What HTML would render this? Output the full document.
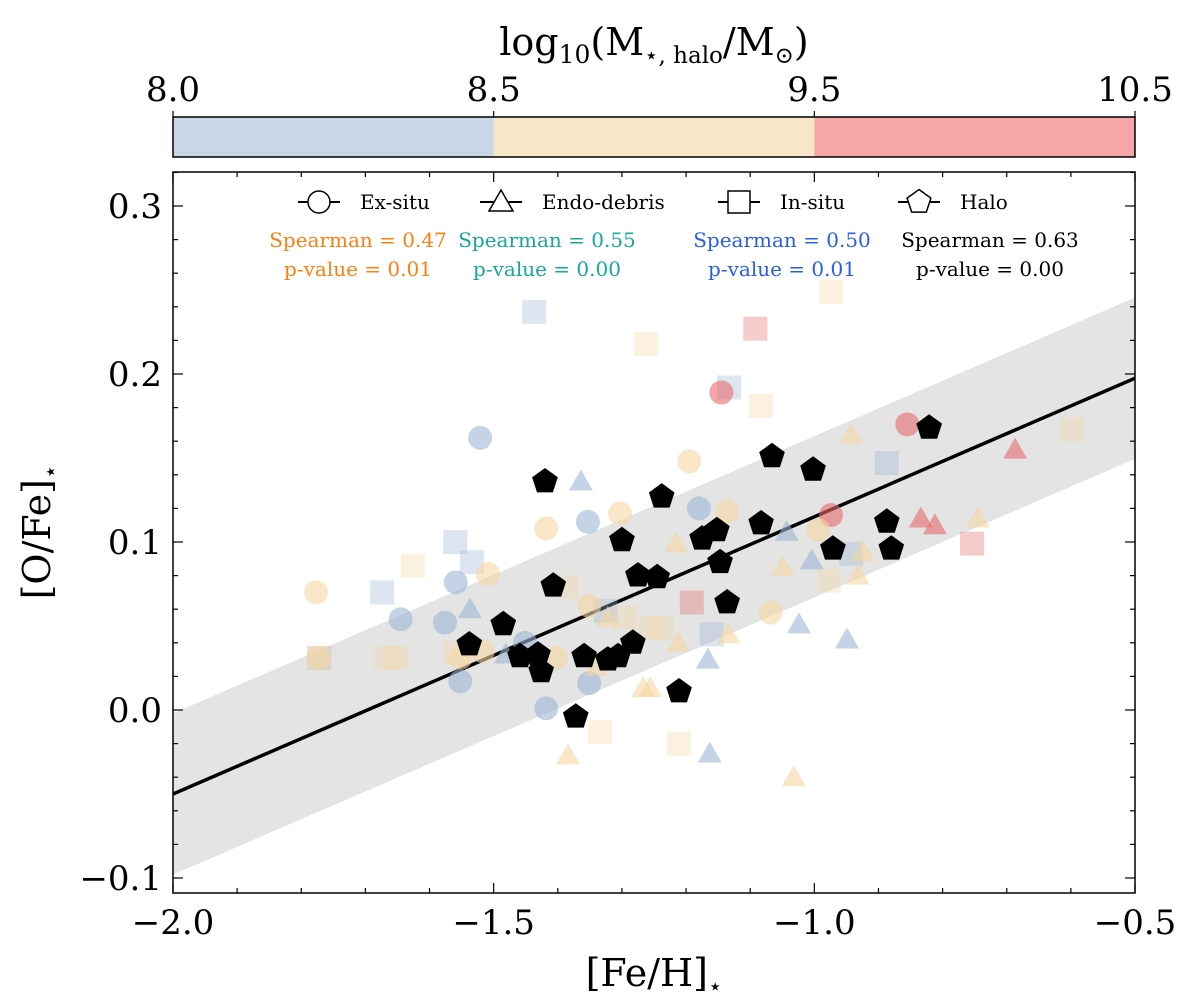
<!DOCTYPE html>
<html><head><meta charset="utf-8">
<style>
body{margin:0;background:#fff;}
svg text{font-family:"DejaVu Serif","Liberation Serif",serif;}
</style></head>
<body>
<svg id="chart" width="1200" height="1002" xmlns="http://www.w3.org/2000/svg">
</svg>
<script>
// ---- data ----
const halo_x = [-1.459,-1.431,-1.426,-1.359,-1.322,-1.306,-1.283,-1.407,-1.485,-1.538,-1.420,-1.300,-1.372,-1.238,-1.066,-1.002,-1.083,-1.152,-1.175,-1.147,-0.971,-0.887,-0.880,-0.821,-1.136,-1.211,-1.245,-1.275];
const halo_y = [0.032,0.033,0.023,0.032,0.030,0.032,0.040,0.074,0.051,0.039,0.136,0.101,-0.004,0.127,0.151,0.143,0.111,0.107,0.102,0.088,0.096,0.112,0.096,0.168,0.064,0.011,0.079,0.080];

const circ_x = [-1.777,-1.521,-1.353,-1.418,-1.303,-1.559,-1.509,-1.645,-1.576,-1.351,-1.451,-1.517,-1.552,-1.403,-1.552,-1.351,-1.418,-1.774,-1.145,-1.195,-1.180,-1.136,-0.974,-0.994,-0.855,-1.068];
const circ_y = [0.070,0.162,0.112,0.108,0.117,0.076,0.081,0.054,0.052,0.062,0.040,0.035,0.031,0.031,0.017,0.016,0.001,0.031,0.189,0.148,0.120,0.118,0.116,0.107,0.170,0.058];
const circ_c = ['t','b','b','t','t','b','t','b','b','t','b','t','t','t','b','b','b','t','r','t','b','t','r','t','r','t'];

const tri_x = [-1.364,-1.537,-1.481,-1.322,-1.384,-1.267,-1.256,-1.340,-1.216,-1.043,-1.049,-1.004,-0.924,-0.932,-0.943,-0.834,-0.812,-0.745,-0.687,-1.212,-1.134,-1.166,-1.024,-0.949,-1.163,-1.032];
const tri_y = [0.136,0.060,0.033,0.055,-0.027,0.013,0.013,0.026,0.099,0.106,0.085,0.089,0.094,0.080,0.164,0.114,0.110,0.114,0.155,0.040,0.045,0.030,0.051,0.042,-0.026,-0.040];
const tri_c = ['b','b','b','t','t','t','t','t','t','b','t','b','t','t','t','r','r','t','r','t','t','b','b','b','b','t'];

const sq_x = [-1.437,-1.262,-1.560,-1.534,-1.626,-1.674,-1.772,-1.668,-1.651,-1.559,-1.387,-1.325,-1.295,-1.334,-1.255,-0.974,-1.092,-1.133,-1.083,-0.887,-0.598,-1.191,-0.943,-0.977,-1.238,-1.160,-0.754,-1.211,-1.772];
const sq_y = [0.237,0.218,0.100,0.088,0.086,0.070,0.031,0.031,0.031,0.034,0.073,0.059,0.055,-0.013,0.049,0.249,0.227,0.192,0.181,0.147,0.167,0.064,0.093,0.077,0.049,0.045,0.099,-0.020,0.031];
const sq_c = ['b','t','b','b','t','b','b','t','t','t','t','b','t','t','t','t','r','b','t','b','t','r','b','t','t','b','r','t','t'];

const fit_slope = 0.165, fit_icpt = 0.280, band = 0.048;
const xTicks = [-2.0,-1.5,-1.0,-0.5];
const xTickLabels = ['\u22122.0','\u22121.5','\u22121.0','\u22120.5'];
const yTicks = [-0.1,0.0,0.1,0.2,0.3];
const yTickLabels = ['\u22120.1','0.0','0.1','0.2','0.3'];
const cbTicks = ['8.0','8.5','9.5','10.5'];

// ---- layout ----
const NS='http://www.w3.org/2000/svg';
const svg=document.getElementById('chart');
const L=173,R=1135,T=172,B=893;
const X=v=>L+(v+2)/1.5*(R-L);
const Y=v=>710-v*1680;
const COL={b:'#9db5d6',t:'#f5d7a3',r:'#e66b6b'};
function el(tag,attrs,parent){const e=document.createElementNS(NS,tag);for(const k in attrs)e.setAttribute(k,attrs[k]);(parent||svg).appendChild(e);return e;}
function txt(s,x,y,size,anchor,fill,parent){const t=el('text',{x:x,y:y,'font-size':size,'text-anchor':anchor||'middle',fill:fill||'#000'},parent);t.textContent=s;return t;}

// colorbar
const cb=el('g',{});


const cbw=(R-L)/3, cbc=['#c8d6e8','#f8e6c8','#f5a6a6'];
for(let i=0;i<3;i++){const r=el('rect',{x:L+i*cbw,y:117,width:cbw,height:40,fill:cbc[i]},cb);}
el('rect',{x:L,y:117,width:R-L,height:40,fill:'none',stroke:'#000','stroke-width':1.5},cb);
cbTicks.forEach((s,i)=>{const x=L+i*cbw;el('line',{x1:x,x2:x,y1:117,y2:111,stroke:'#000','stroke-width':1.2},cb);const t=txt(s,x,101,34,'middle','#000',cb);});
const cbt=el('text',{x:654,y:55,'font-size':38,'text-anchor':'middle'},cb);


cbt.innerHTML='log<tspan font-size="25" dy="8">10</tspan><tspan dy="-8">(M</tspan><tspan font-size="23" dy="8">\u22c6, halo</tspan><tspan dy="-8">/M</tspan><tspan font-size="23" dy="8">\u2299</tspan><tspan dy="-8">)</tspan>';

// plot clip
const defs=el('defs',{});const cp=el('clipPath',{id:'pc'},defs);el('rect',{x:L,y:T,width:R-L,height:B-T},cp);
const plot=el('g',{'clip-path':'url(#pc)'});


const fx=x=>fit_slope*x+fit_icpt;
const bandEl=el('polygon',{points:`${X(-2)},${Y(fx(-2)+band)} ${X(-0.5)},${Y(fx(-0.5)+band)} ${X(-0.5)},${Y(fx(-0.5)-band)} ${X(-2)},${Y(fx(-2)-band)}`,fill:'#e4e4e4'},plot);


const fl=el('line',{x1:X(-2),y1:Y(fx(-2)),x2:X(-0.5),y2:Y(fx(-0.5)),stroke:'#000','stroke-width':3.5},plot);



function triPts(cx,cy,s){return `${cx},${cy-s} ${cx-s*1.0},${cy+s*0.75} ${cx+s*1.0},${cy+s*0.75}`;}
function pentPts(cx,cy,r){let p=[];for(let i=0;i<5;i++){const a=-Math.PI/2+i*2*Math.PI/5;p.push((cx+r*Math.cos(a)).toFixed(1)+','+(cy+r*Math.sin(a)).toFixed(1));}return p.join(' ');}

sq_x.forEach((v,i)=>{const e=el('rect',{x:X(v)-12,y:Y(sq_y[i])-12,width:24,height:24,fill:COL[sq_c[i]],'fill-opacity':0.35},plot);});
circ_x.forEach((v,i)=>{const e=el('circle',{cx:X(v),cy:Y(circ_y[i]),r:12,fill:COL[circ_c[i]],'fill-opacity':0.6},plot);});
tri_x.forEach((v,i)=>{const e=el('polygon',{points:triPts(X(v),Y(tri_y[i]),12),fill:COL[tri_c[i]],'fill-opacity':0.6},plot);});
halo_x.forEach((v,i)=>{const e=el('polygon',{points:pentPts(X(v),Y(halo_y[i]),13.5),fill:'#000'},plot);});

// axes frame
const fr=el('rect',{x:L,y:T,width:R-L,height:B-T,fill:'none',stroke:'#000','stroke-width':1.5});


for(let k=0;k<=15;k++){const v=-2+k*0.1,x=X(v),maj=(k%5===0),len=maj?10:5;
 el('line',{x1:x,x2:x,y1:B,y2:B-len,stroke:'#000','stroke-width':1.2});el('line',{x1:x,x2:x,y1:T,y2:T+len,stroke:'#000','stroke-width':1.2});}
for(let k=-5;k<=16;k++){const v=k*0.02,y=Y(v);if(y<T||y>B)continue;const maj=(k%5===0),len=maj?10:5;
 el('line',{x1:L,x2:L+len,y1:y,y2:y,stroke:'#000','stroke-width':1.2});el('line',{x1:R,x2:R-len,y1:y,y2:y,stroke:'#000','stroke-width':1.2});}
xTicks.forEach((v,i)=>{const t=txt(xTickLabels[i],X(v),934,34);});
yTicks.forEach((v,i)=>{const t=txt(yTickLabels[i],162,Y(v)+12,34,'end');});
const xl=el('text',{x:654,y:986,'font-size':38,'text-anchor':'middle'});


xl.innerHTML='[Fe/H]<tspan font-size="23" dy="8">\u22c6</tspan>';
const yl=el('text',{x:0,y:0,'font-size':38,'text-anchor':'middle',transform:'translate(50,532) rotate(-90)'});


yl.innerHTML='[O/Fe]<tspan font-size="23" dy="8">\u22c6</tspan>';

// legend
const lg=el('g',{});


const entries=[['circle',298,'Ex-situ'],['tri',480,'Endo-debris'],['sq',718,'In-situ'],['pent',898,'Halo']];
entries.forEach(e=>{const g=el('g',{},lg);
 const cx=e[1]+21,cy=202;el('line',{x1:e[1],x2:e[1]+42,y1:cy,y2:cy,stroke:'#000','stroke-width':2},g);
 const st={fill:'#fff',stroke:'#000','stroke-width':1.5};
 if(e[0]==='circle')el('circle',Object.assign({cx:cx,cy:cy,r:11},st),g);
 if(e[0]==='tri')el('polygon',Object.assign({points:triPts(cx,cy,12)},st),g);
 if(e[0]==='sq')el('rect',Object.assign({x:cx-11,y:cy-11,width:22,height:22},st),g);
 if(e[0]==='pent')el('polygon',Object.assign({points:pentPts(cx,cy,12.5)},st),g);
 txt(e[2],e[1]+62,209,20,'start','#000',g);});
const sp=[[358,'#ff7f0e','0.47','0.01'],[547,'#17a89a','0.55','0.00'],[782,'#2a5ee8','0.50','0.01'],[990,'#000','0.63','0.00']];
sp.forEach(s=>{const a=txt('Spearman = '+s[2],s[0],247,20,'middle',s[1],lg);
 const b=txt('p-value = '+s[3],s[0],276,20,'middle',s[1],lg);});
</script>
</body></html>
